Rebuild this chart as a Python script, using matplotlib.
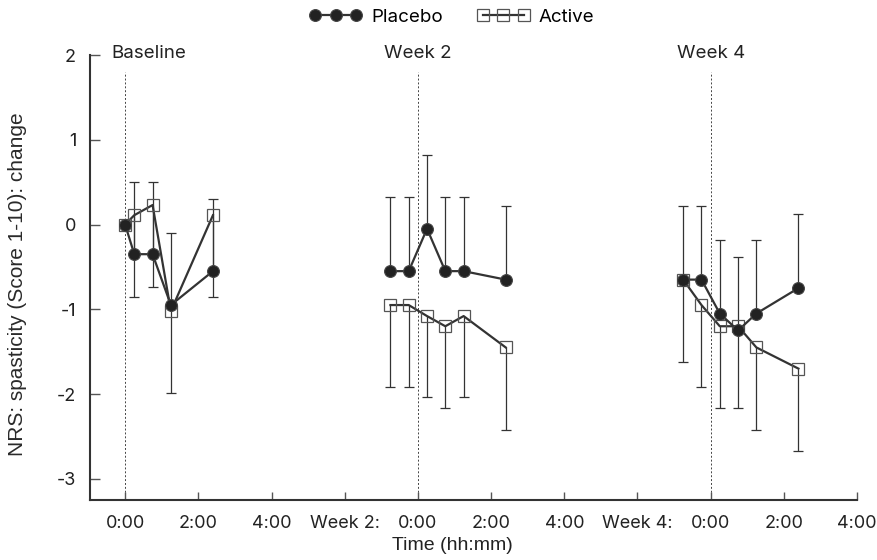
import numpy as np
import matplotlib
matplotlib.use("Agg")
import matplotlib.pyplot as plt
from matplotlib import font_manager

# ---- data ----
x_base = [0, 0.25, 0.75, 1.25, 2.4]
x_wk2 = [7.25, 7.75, 8.25, 8.75, 9.25, 10.4]
x_wk4 = [15.25, 15.75, 16.25, 16.75, 17.25, 18.4]

placebo_base = [0, -0.35, -0.35, -0.95, -0.55]
placebo_wk2 = [-0.55, -0.55, -0.05, -0.55, -0.55, -0.65]
placebo_wk4 = [-0.65, -0.65, -1.05, -1.25, -1.05, -0.75]

active_base = [0, 0.11, 0.23, -1.02, 0.11]
active_wk2 = [-0.95, -0.95, -1.08, -1.20, -1.08, -1.45]
active_wk4 = [-0.65, -0.95, -1.20, -1.20, -1.45, -1.70]

# placebo: upper error only; active: lower error only
placebo_err_base = [0, 0.85, 0.85, 0.85, 0.85]
placebo_err_wk2 = [0.87, 0.87, 0.87, 0.87, 0.87, 0.87]
placebo_err_wk4 = [0.87, 0.87, 0.87, 0.87, 0.87, 0.87]
active_err_base = [0, 0.97, 0.97, 0.97, 0.97]
active_err_wk2 = [0.97, 0.97, 0.96, 0.97, 0.96, 0.97]
active_err_wk4 = [0.97, 0.97, 0.97, 0.97, 0.97, 0.97]

visit_x = [0, 8, 16]
visit_labels = ["Baseline", "Week 2", "Week 4"]
xtick_pos = [0, 2, 4, 6, 8, 10, 12, 14, 16, 18, 20]
xtick_labels = ["0:00", "2:00", "4:00", "Week 2:", "0:00", "2:00", "4:00",
                "Week 4:", "0:00", "2:00", "4:00"]
ytick_pos = [2, 1, 0, -1, -2, -3]

TXT = ["Inter", "DejaVu Sans"]
LAB = ["Liberation Sans", "DejaVu Sans"]
names = {f.name for f in font_manager.fontManager.ttflist}
has_narrow = "Liberation Sans Narrow" in names

fig = plt.figure(figsize=(8.78, 5.6), dpi=100)
ax = fig.add_axes([90/878, 1-500/560, (857-90)/878, (500-55)/560])

dark = "#333333"

def draw_errs(xs, ys, lo, hi):
    xs = np.asarray(xs, float); ys = np.asarray(ys, float)
    lo = np.asarray(lo, float); hi = np.asarray(hi, float)
    m = (lo + hi) > 0
    ax.vlines(xs[m], (ys - lo)[m], (ys + hi)[m], color=dark, lw=0.9, zorder=2)
    ends = np.where(hi > 0, ys + hi, ys - lo)
    ax.plot(xs[m], ends[m], ls="none", marker="_", ms=7, mew=0.9,
            color=dark, zorder=2)

groups = [
    (x_base, placebo_base, active_base, placebo_err_base, active_err_base),
    (x_wk2, placebo_wk2, active_wk2, placebo_err_wk2, active_err_wk2),
    (x_wk4, placebo_wk4, active_wk4, placebo_err_wk4, active_err_wk4),
]
for i, (xs, p, a, pe, ae) in enumerate(groups):
    draw_errs(xs, p, np.zeros(len(pe)), pe)
    draw_errs(xs, a, ae, np.zeros(len(ae)))
    ax.plot(xs, a, color=dark, lw=1.6, marker="s", ms=8.5, mfc="none",
            mec="#555555", mew=0.9, zorder=3,
            label="Active" if i == 0 else None)
    ax.plot(xs, p, color=dark, lw=1.6, marker="o", ms=8.5, mfc="#222222",
            mec="#444444", mew=0.8, zorder=4,
            label="Placebo" if i == 0 else None)

for vx, vl in zip(visit_x, visit_labels):
    ax.vlines(vx, -3.25, 1.8, color="#444444", lw=0.7, linestyles=(0, (2, 2)),
              zorder=1)
    off = 0.65 if vl == "Baseline" else 0
    ax.text(vx + off, 2.02, vl, ha="center", va="center", fontsize=13.5,
            family=TXT, color="#222222")

ax.set_xlim(-0.96, 20)
ax.set_ylim(-3.25, 2)
ax.set_xticks(xtick_pos)
ax.set_xticklabels(xtick_labels, family=TXT, fontsize=13, color="#222222")
ax.set_yticks(ytick_pos)
ax.set_yticklabels([str(v) for v in ytick_pos], family=TXT, fontsize=13,
                   color="#222222")
ax.tick_params(direction="in", length=6, width=1, color="#555555")
ax.tick_params(axis="x", pad=11)
ax.tick_params(axis="y", length=7, pad=10)
for s in ["top", "right"]:
    ax.spines[s].set_visible(False)
for s in ["left", "bottom"]:
    ax.spines[s].set_color("#333333")
    ax.spines[s].set_linewidth(1.5)

ax.set_ylabel("NRS: spasticity (Score 1-10): change", family=LAB,
              fontsize=15, color="#2a2a2a")
ax.yaxis.set_label_coords(-0.082, 0.485)
if has_narrow:
    fig.text(452/878, 1-545/560, "Time (hh:mm)", ha="center", va="center",
             family=["Liberation Sans Narrow", "DejaVu Sans"], fontsize=15.5,
             color="#222222")
else:
    fig.text(452/878, 1-545/560, "Time (hh:mm)", ha="center", va="center",
             family=LAB, fontsize=14, color="#222222")

h, l = ax.get_legend_handles_labels()
order = [l.index("Placebo"), l.index("Active")]
fig.legend([h[k] for k in order], [l[k] for k in order], loc="center",
           bbox_to_anchor=(452/878, 1-17/560), ncol=2, frameon=False,
           numpoints=3, handlelength=2.8, handletextpad=0.5,
           columnspacing=1.8, prop={"family": TXT, "size": 13.5},
           markerscale=1.0)

fig.savefig("out.png", dpi=100)
